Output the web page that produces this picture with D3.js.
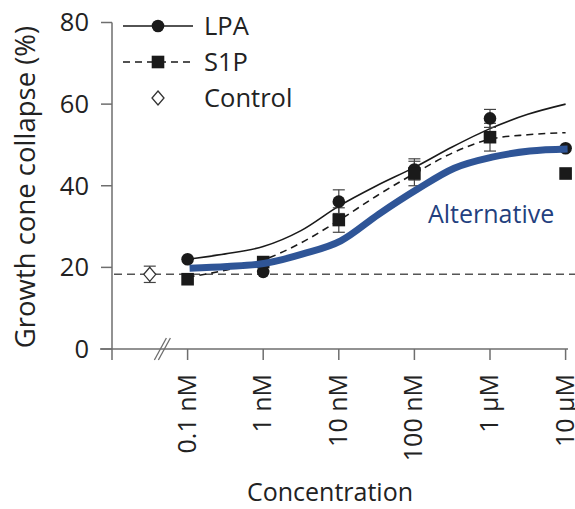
<!DOCTYPE html>
<html>
<head>
<meta charset="utf-8">
<script src="https://cdn.jsdelivr.net/npm/d3@7"></script>
<style>
  body { margin: 0; background: #fff; }
  text { font-family: "Open Sans", "Noto Sans", sans-serif; fill: #222; }
</style>
</head>
<body>
<svg id="chart"></svg>
<script>
// data
const conc = [0.1, 1, 10, 100, 1000, 10000]; // nM
const tickLabels = ["0.1 nM", "1 nM", "10 nM", "100 nM", "1 µM", "10 µM"];
const lpaMean = [22.0, 18.9, 36.1, 44.0, 56.5, 49.2];
const lpaErr = [0, 0, 2.9, 2.6, 2.2, 0];
const s1pMean = [17.1, 21.3, 31.6, 43.0, 51.9, 43.0];
const s1pErr = [0, 0, 3.0, 3.0, 3.4, 0];
const controlMean = 18.3;
const controlErr = 2.0;

// fitted curves, read at half decades
const fitConc = [0.1, 0.316, 1, 3.16, 10, 31.6, 100, 316, 1000, 3160, 10000];
const lpaFit = [22.0, 23.3, 25.1, 29.0, 35.0, 40.0, 44.5, 49.5, 54.0, 57.5, 60.0];
const s1pFit = [17.6, 19.3, 21.8, 26.0, 31.5, 37.5, 43.0, 48.0, 51.4, 52.5, 53.0];
const altFit = [19.8, 20.2, 21.0, 23.3, 26.5, 33.0, 39.0, 44.3, 47.0, 48.5, 49.0];

const yTicks = [0, 20, 40, 60, 80];

const W = 575, H = 509;
const svg = d3.select("#chart").attr("width", W).attr("height", H);

// axis position sits one decade left of 0.1 nM, control half a decade left
const x = d3.scaleLog().domain([0.01, 10000]).range([112, 565.6]);
const y = d3.scaleLinear().domain([0, 80]).range([349, 22.5]);
const controlX = x(0.0316);

const axisColor = "#6e6e6e";

//----------------axes
svg.append("line")
  .attr("x1", 100).attr("x2", 568)
  .attr("y1", y(0)).attr("y2", y(0))
  .attr("stroke", axisColor).attr("stroke-width", 1.5);
svg.append("line")
  .attr("x1", x(0.01)).attr("x2", x(0.01))
  .attr("y1", y(80)).attr("y2", y(0) + 11)
  .attr("stroke", axisColor).attr("stroke-width", 1.5);

for (let t of yTicks) {
  svg.append("line")
    .attr("x1", x(0.01) - 11).attr("x2", x(0.01))
    .attr("y1", y(t)).attr("y2", y(t))
    .attr("stroke", axisColor).attr("stroke-width", 1.5);
  svg.append("text")
    .attr("x", x(0.01) - 23).attr("y", y(t))
    .attr("dy", "0.35em")
    .attr("text-anchor", "end")
    .attr("font-size", 25.5)
    .text(t);
}

conc.forEach((c, i) => {
  svg.append("line")
    .attr("x1", x(c)).attr("x2", x(c))
    .attr("y1", y(0)).attr("y2", y(0) + 11)
    .attr("stroke", axisColor).attr("stroke-width", 1.5);
  svg.append("text")
    .attr("transform", "translate(" + (x(c) + 8) + "," + (y(0) + 25) + ") rotate(-90)")
    .attr("text-anchor", "end")
    .attr("font-size", 25)
    .text(tickLabels[i]);
});

// axis break
for (let off of [0, 4]) {
  svg.append("line")
    .attr("x1", x(0.045) - 7 + off).attr("x2", x(0.045) + 5 + off)
    .attr("y1", y(0) + 11).attr("y2", y(0) - 11)
    .attr("stroke", axisColor).attr("stroke-width", 1.3);
}

svg.append("text")
  .attr("x", 330).attr("y", 501)
  .attr("text-anchor", "middle")
  .attr("font-size", 25)
  .text("Concentration");

svg.append("text")
  .attr("transform", "translate(35," + 187 + ") rotate(-90)")
  .attr("text-anchor", "middle")
  .attr("font-size", 27.5)
  .text("Growth cone collapse (%)");

//----------------control baseline
svg.append("line")
  .attr("x1", x(0.01) + 2).attr("x2", W)
  .attr("y1", y(controlMean)).attr("y2", y(controlMean))
  .attr("stroke", "#555").attr("stroke-width", 1.5)
  .attr("stroke-dasharray", "8,5");

//----------------fits
const line = d3.line()
  .x(d => x(d[0]))
  .y(d => y(d[1]))
  .curve(d3.curveMonotoneX);

svg.append("path")
  .attr("d", line(d3.zip(fitConc, lpaFit)))
  .attr("fill", "none").attr("stroke", "#1a1a1a").attr("stroke-width", 1.6);
svg.append("path")
  .attr("d", line(d3.zip(fitConc, s1pFit)))
  .attr("fill", "none").attr("stroke", "#1a1a1a").attr("stroke-width", 1.6)
  .attr("stroke-dasharray", "7,5");

//----------------error bars
function errBar(cx, m, e) {
  if (e <= 0) return;
  svg.append("line")
    .attr("x1", cx).attr("x2", cx).attr("y1", y(m - e)).attr("y2", y(m + e))
    .attr("stroke", "#444").attr("stroke-width", 1.2);
  for (let v of [m - e, m + e]) {
    svg.append("line")
      .attr("x1", cx - 6).attr("x2", cx + 6).attr("y1", y(v)).attr("y2", y(v))
      .attr("stroke", "#444").attr("stroke-width", 1.2);
  }
}
conc.forEach((c, i) => {
  errBar(x(c), lpaMean[i], lpaErr[i]);
  errBar(x(c), s1pMean[i], s1pErr[i]);
});
errBar(controlX, controlMean, controlErr);

//----------------markers
const diamond = "M0,-7L6,0L0,7L-6,0Z";
conc.forEach((c, i) => {
  svg.append("circle")
    .attr("cx", x(c)).attr("cy", y(lpaMean[i])).attr("r", 6.3)
    .attr("fill", "#1a1a1a");
  svg.append("rect")
    .attr("x", x(c) - 6.3).attr("y", y(s1pMean[i]) - 6.3)
    .attr("width", 12.6).attr("height", 12.6)
    .attr("fill", "#1a1a1a");
});
svg.append("path")
  .attr("d", diamond)
  .attr("transform", "translate(" + controlX + "," + y(controlMean) + ")")
  .attr("fill", "#fff").attr("stroke", "#333").attr("stroke-width", 1.3);

//----------------alternative curve
const altPts = d3.zip(fitConc, altFit);
svg.append("path")
  .attr("d", d3.line().x(d => x(d[0])).y(d => y(d[1])).curve(d3.curveMonotoneX)(altPts))
  .attr("transform", "translate(2,0)")
  .attr("fill", "none").attr("stroke", "#2f5597").attr("stroke-width", 7);
svg.append("text")
  .attr("x", 428).attr("y", 223)
  .attr("font-size", 25)
  .style("fill", "#233f7e")
  .text("Alternative");

//----------------legend
const legend = [
  { name: "LPA", dash: null, mark: "circle", y: 26 },
  { name: "S1P", dash: "7,5", mark: "square", y: 62 },
  { name: "Control", dash: null, mark: "diamond", y: 98 }
];
for (let l of legend) {
  if (l.mark !== "diamond") {
    svg.append("line")
      .attr("x1", 123).attr("x2", 193).attr("y1", l.y).attr("y2", l.y)
      .attr("stroke", "#1a1a1a").attr("stroke-width", 1.6)
      .attr("stroke-dasharray", l.dash);
  }
  if (l.mark === "circle") {
    svg.append("circle").attr("cx", 158).attr("cy", l.y).attr("r", 6.3).attr("fill", "#1a1a1a");
  } else if (l.mark === "square") {
    svg.append("rect").attr("x", 151.7).attr("y", l.y - 6.3).attr("width", 12.6).attr("height", 12.6).attr("fill", "#1a1a1a");
  } else {
    svg.append("path").attr("d", diamond)
      .attr("transform", "translate(158," + l.y + ")")
      .attr("fill", "#fff").attr("stroke", "#333").attr("stroke-width", 1.3);
  }
  svg.append("text")
    .attr("x", 204).attr("y", l.y)
    .attr("dy", "0.36em")
    .attr("font-size", 25.5)
    .text(l.name);
}
</script>
</body>
</html>
